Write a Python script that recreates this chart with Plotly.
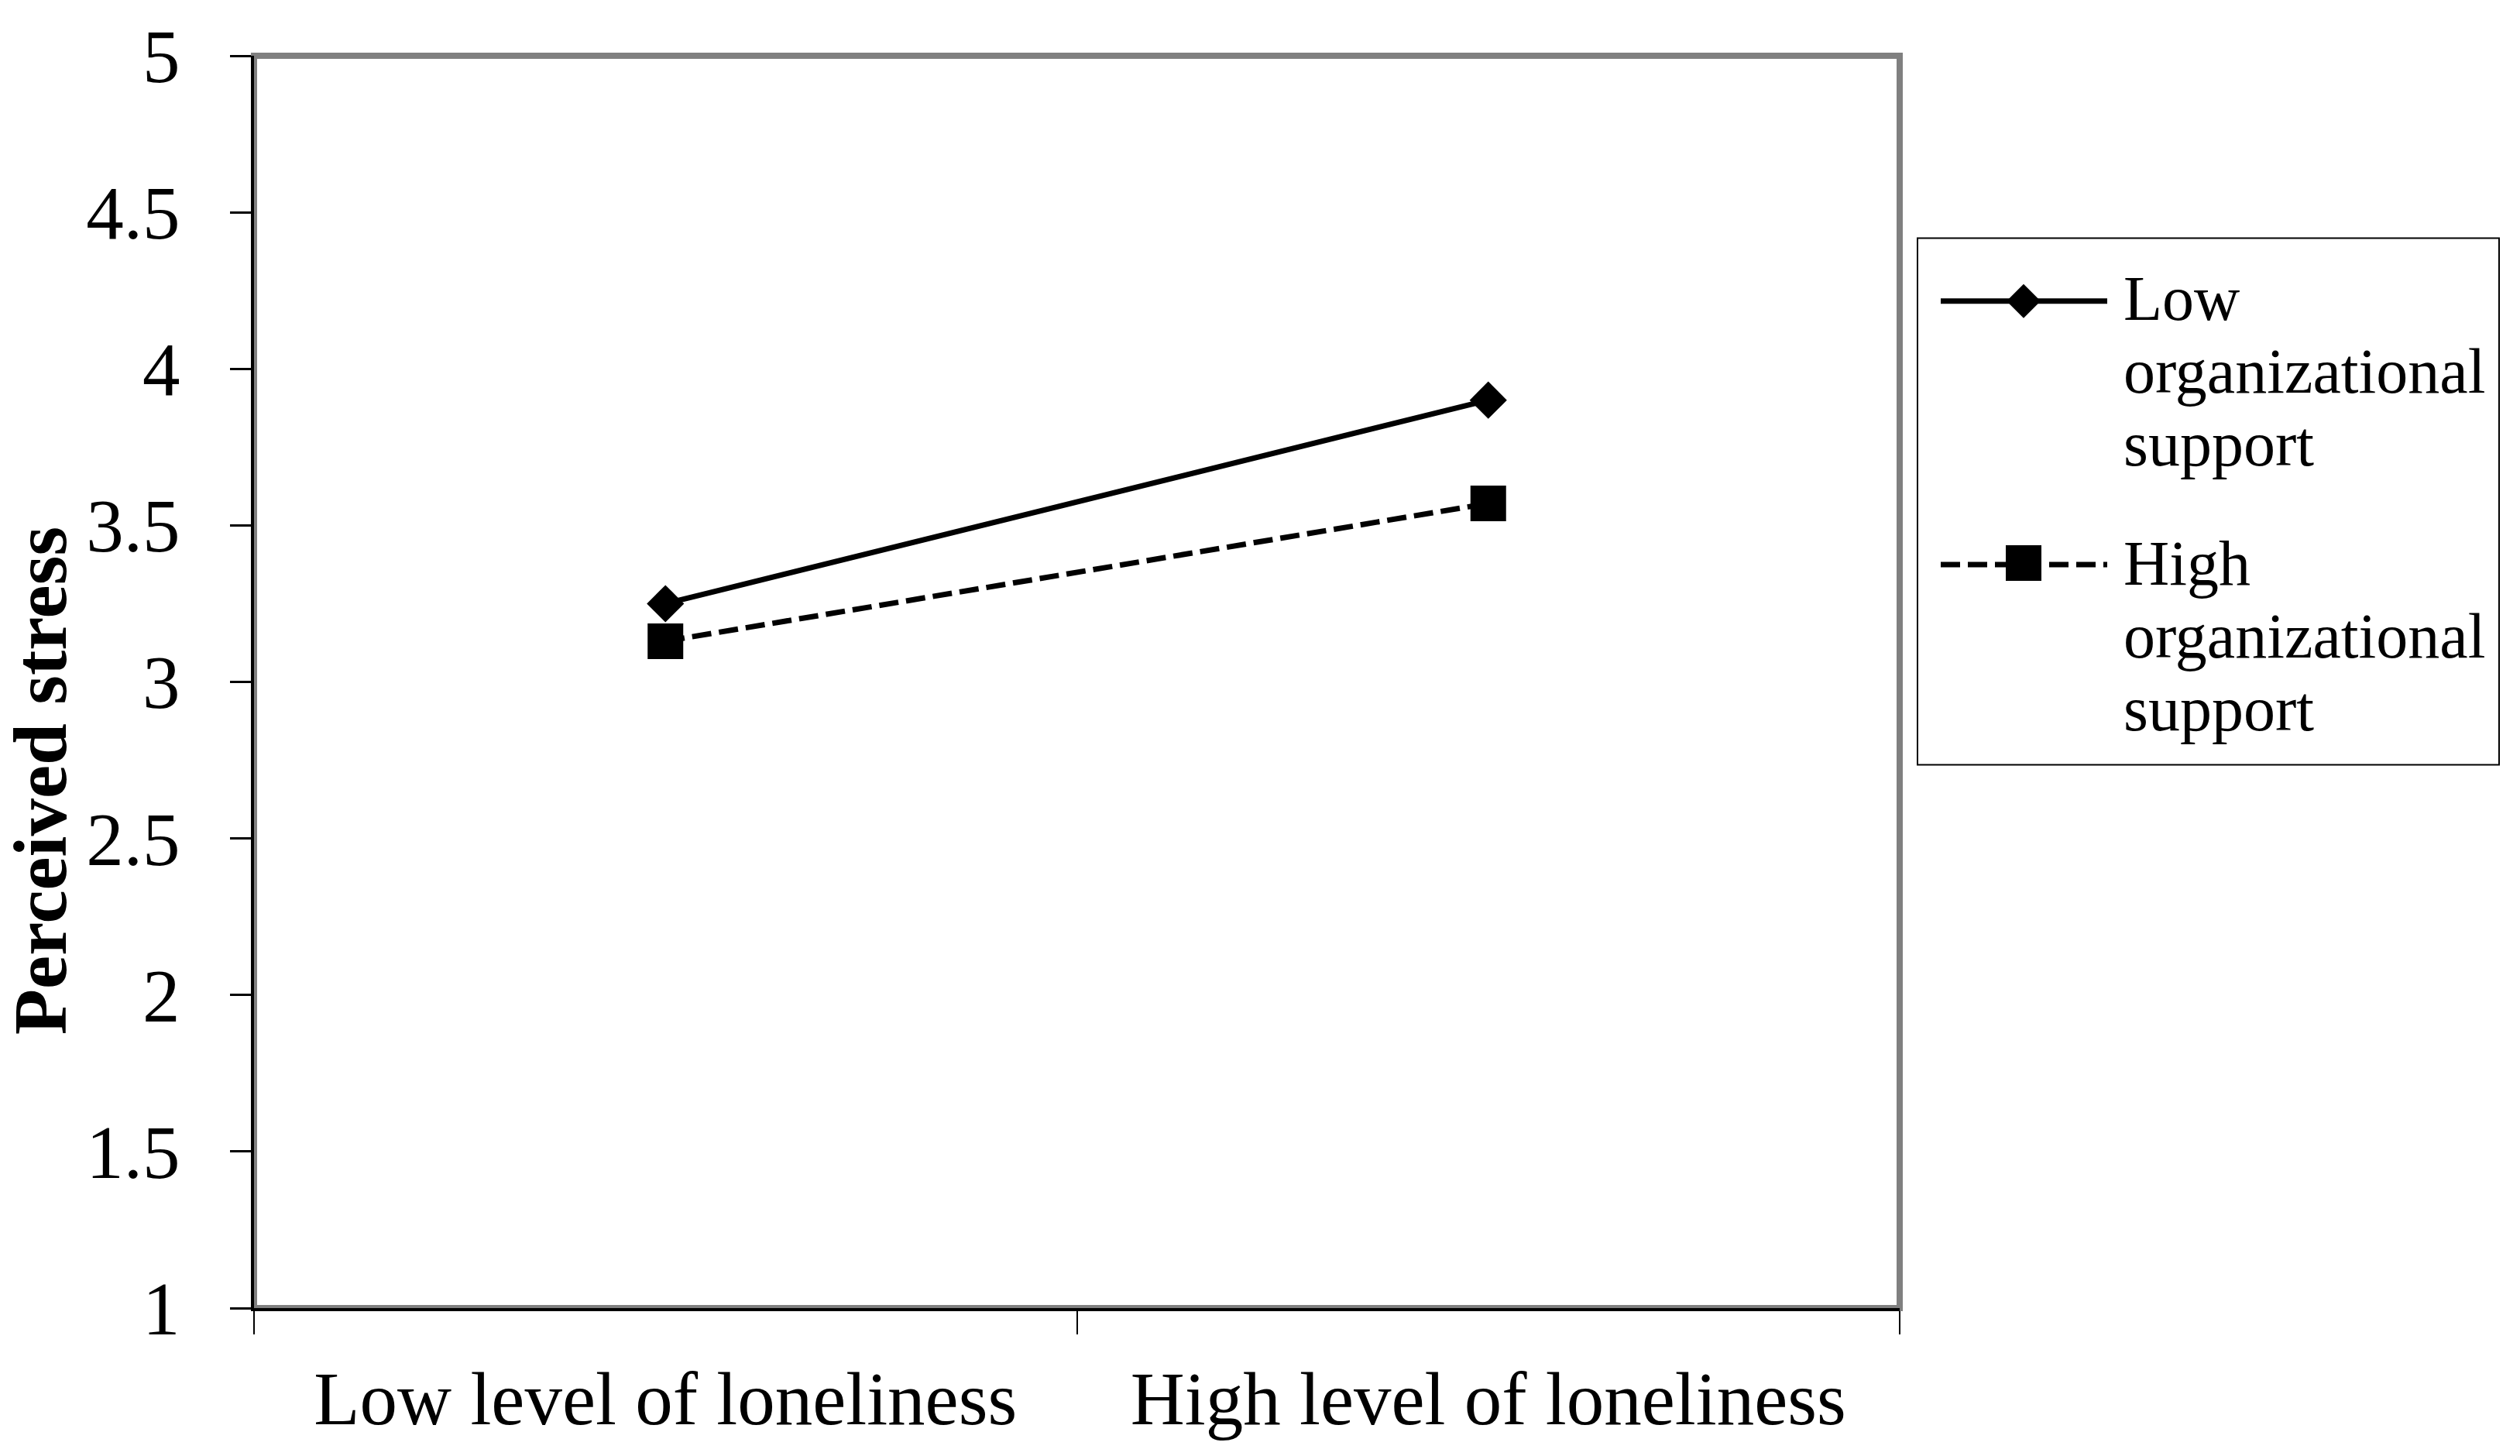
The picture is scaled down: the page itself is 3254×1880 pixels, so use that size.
import plotly.graph_objects as go

# data
loneliness = ["Low level of loneliness", "High level of loneliness"]
low_support = [3.25, 3.90]
high_support = [3.13, 3.57]

FONT = "Liberation Serif, Times New Roman, serif"
# the page body has an 8px margin, so the figure is made smaller to fit
OFF = 8
W, H = 3254 - 2 * OFF, 1880 - 2 * OFF
# plot area in page pixels
L, R, T, B = 328, 2453, 63, 1697
PW, PH = R - L, B - T


def xp(px):
    return (px - L) / PW


def yp(py):
    return (B - py) / PH


fig = go.Figure()

fig.add_trace(go.Scatter(
    x=loneliness, y=low_support, mode="lines+markers",
    line=dict(color="black", width=7),
    marker=dict(symbol="diamond", size=37, color="black"),
))
fig.add_trace(go.Scatter(
    x=loneliness, y=high_support, mode="lines+markers",
    line=dict(color="black", width=7, dash="25px,10px"),
    marker=dict(symbol="square", size=46, color="black"),
))

shapes = [
    # grey frame around the plot area
    dict(type="rect", xref="paper", yref="paper", x0=0, x1=1, y0=0, y1=1,
         line=dict(color="#808080", width=8), layer="below"),
    # legend box
    dict(type="rect", xref="paper", yref="paper",
         x0=xp(2476), x1=xp(3227), y0=yp(988), y1=yp(301),
         line=dict(color="black", width=2)),
    # legend samples
    dict(type="line", xref="paper", yref="paper",
         x0=xp(2506), x1=xp(2721), y0=yp(383), y1=yp(383),
         line=dict(color="black", width=7)),
    dict(type="path", xref="paper", yref="paper",
         xsizemode="pixel", ysizemode="pixel",
         xanchor=xp(2613), yanchor=yp(383),
         path="M-22,0 L0,22 L22,0 L0,-22 Z",
         fillcolor="black", line=dict(color="black", width=0)),
    dict(type="line", xref="paper", yref="paper",
         x0=xp(2506), x1=xp(2721), y0=yp(727), y1=yp(727),
         line=dict(color="black", width=7, dash="25px,10px")),
    dict(type="rect", xref="paper", yref="paper",
         xsizemode="pixel", ysizemode="pixel",
         xanchor=xp(2613), yanchor=yp(725),
         x0=-23, x1=23, y0=-23, y1=23,
         fillcolor="black", line=dict(color="black", width=0)),
]

annotations = [
    dict(text="<b>Perceived stress</b>", xref="paper", yref="paper",
         x=xp(52), y=yp(1009), textangle=-90, showarrow=False,
         xanchor="center", yanchor="middle",
         font=dict(family=FONT, size=97, color="black")),
]

# legend text, one line per annotation to keep the tight line spacing
legend_lines = [(["Low", "organizational", "support"], 380),
                (["High", "organizational", "support"], 725)]
for words, y0 in legend_lines:
    for i, w in enumerate(words):
        annotations.append(dict(
            text=w, xref="paper", yref="paper", x=xp(2740), y=yp(y0 + i * 95),
            xanchor="left", yanchor="middle", showarrow=False,
            font=dict(family=FONT, size=82, color="black")))

fig.update_layout(
    width=W, height=H, autosize=False,
    margin=dict(l=L - OFF, r=W + OFF - R, t=T - OFF, b=H + OFF - B, pad=0),
    paper_bgcolor="white", plot_bgcolor="white",
    showlegend=False,
    font=dict(family=FONT, size=97, color="black"),
    shapes=shapes, annotations=annotations,
)

fig.update_xaxes(
    type="category", range=[-0.5, 1.5], tickson="boundaries",
    ticks="outside", ticklen=30, tickwidth=2, tickcolor="black",
    showline=True, linecolor="black", linewidth=4,
    showgrid=False, zeroline=False,
    tickfont=dict(family=FONT, size=97, color="black"),
    ticklabelstandoff=30,
)
fig.update_yaxes(
    range=[1, 5], tick0=1, dtick=0.5,
    ticks="outside", ticklen=27, tickwidth=3, tickcolor="black",
    showline=True, linecolor="black", linewidth=4,
    showgrid=False, zeroline=False,
    tickfont=dict(family=FONT, size=97, color="black"),
    ticklabelstandoff=45,
)

fig.write_html("out.html")
